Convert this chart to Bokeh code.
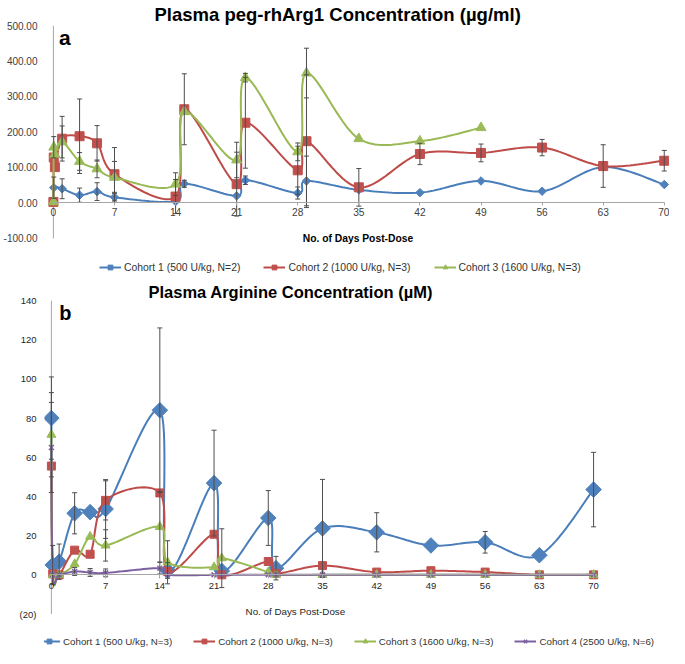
import numpy as np
from bokeh.plotting import figure
from bokeh.layouts import column
from bokeh.models import (Range1d, FixedTicker, NumeralTickFormatter, Legend, LegendItem,
                          Whisker, TeeHead, ColumnDataSource, Label)
from bokeh.embed import file_html
from bokeh.resources import INLINE

# ---------------- Panel a: Plasma peg-rhArg1 concentration (ug/ml) ----------------
a_days_c1 = [0, 0.04, 1, 3, 5, 7, 14, 15, 21, 22, 28, 29, 35, 42, 49, 56, 63, 70]
a_vals_c1 = [0, 43, 40, 22, 32, 16, 4, 54, 20, 64, 28, 62, 37, 29, 62, 33, 101, 52]
a_err_c1 = [0, 30, 28, 20, 25, 14, 0, 10, 0, 12, 17, 70, 0, 0, 0, 0, 0, 0]

a_days_c2 = [0, 0.04, 0.17, 1, 3, 5, 7, 14, 15, 21, 22, 28, 29, 35, 42, 49, 56, 63, 70]
a_vals_c2 = [3, 128, 101, 181, 188, 168, 81, 18, 264, 53, 226, 92, 174, 44, 138, 141, 156, 104, 119]
a_err_c2 = [0, 0, 0, 63, 105, 50, 75, 48, 100, 90, 128, 68, 187, 53, 30, 25, 23, 60, 29]

a_days_c3 = [0, 0.04, 0.17, 1, 3, 5, 7, 14, 15, 21, 22, 28, 29, 35, 42, 49]
a_vals_c3 = [3, 157, 137, 172, 117, 96, 72, 53, 257, 121, 353, 144, 366, 181, 174, 212]
a_err_c3 = [0, 30, 0, 45, 25, 25, 45, 32, 0, 50, 12, 25, 70, 0, 0, 0]

a_labels = ["Cohort 1 (500 U/kg, N=2)", "Cohort 2 (1000 U/kg, N=3)", "Cohort 3 (1600 U/kg, N=3)"]
a_yticks = [-100, 0, 100, 200, 300, 400, 500]
x_ticks = [0, 7, 14, 21, 28, 35, 42, 49, 56, 63, 70]

# ---------------- Panel b: Plasma arginine concentration (uM) ----------------
b_days = [0, 0.17, 1, 3, 5, 7, 14, 15, 21, 22, 28, 29, 35, 42, 49, 56, 63, 70]
b_vals_c1 = [80, 5, 6.7, 31.4, 32, 33.6, 84, 2.2, 46.8, 2, 29, 3.4, 23.7, 21.7, 15, 16.6, 10, 43.5]
b_err_c1 = [21, 10, 9, 10.5, 0, 15, 42, 4, 27, 0, 14, 6, 25, 10, 0, 5.5, 0, 19]
b_vals_c2 = [55.5, 0.5, 0, 12.6, 10.5, 38, 41.8, 1.7, 20.7, 0, 6.8, 0.8, 4.7, 1.4, 2.1, 1.4, 0, 0]
b_err_c2 = [0, 0, 0, 0, 0, 10, 0, 0, 0, 0, 0, 0, 0, 0, 0, 0, 0, 0]
b_vals_c3 = [71.5, 0, 0, 5.5, 19.5, 15, 24.5, 6.4, 3.9, 8.5, 1.4, 0, 0, 0, 0, 0, 0, 0]
b_err_c3 = [21.5, 0, 0, 0, 0, 8, 18, 11, 0, 15, 0, 0, 0, 0, 0, 0, 0, 0]
b_vals_c4 = [65, 0, 0, 1.7, 1.2, 1, 3.4, 0, 0, 0, 0, 0, 0, 0, 0, 0, 0, 0]
b_err_c4 = [23, 0, 0, 2, 2, 2, 3, 0, 0, 0, 0, 0, 0, 0, 0, 0, 0, 0]
b_labels = ["Cohort 1 (500 U/kg, N=3)", "Cohort 2 (1000 U/kg, N=3)",
            "Cohort 3 (1600 U/kg, N=3)", "Cohort 4 (2500 U/kg, N=6)"]
b_yticks = [-20, 0, 20, 40, 60, 80, 100, 120, 140]

LINE = {"blue": "#4A7EBB", "red": "#BE4B48", "green": "#98B954", "purple": "#7D60A0"}
FILL = {"blue": "#4F81BD", "red": "#C0504D", "green": "#9BBB59", "purple": "#8064A2"}
ERR = "#4d4d4d"
AXIS = "#a6a6a6"
FONT = "Liberation Sans"
BL, BR = 36, 0  # shared left / right borders of the stacked plots

# marker specs: (marker, size, angle)
A_MK = {"blue": ("square", 6, np.pi / 4), "red": ("square", 9, 0), "green": ("triangle", 10, 0)}
B_MK = {"blue": ("square", 11, np.pi / 4), "red": ("square", 8, 0), "green": ("triangle", 9, 0),
        "purple": ("x", 7, 0)}


def smooth(xs, ys, n=18):
    """Excel-style smoothed path (Catmull-Rom Bezier) through the data points."""
    P = np.column_stack([xs, ys]).astype(float)
    ext = np.vstack([P[0], P, P[-1]])
    out = []
    t = np.linspace(0, 1, n, endpoint=False)[:, None]
    for i in range(1, len(ext) - 2):
        p0, p1, p2, p3 = ext[i - 1], ext[i], ext[i + 1], ext[i + 2]
        c1 = p1 + (p2 - p0) / 6.0
        c2 = p2 - (p3 - p1) / 6.0
        seg = (1 - t) ** 3 * p1 + 3 * (1 - t) ** 2 * t * c1 + 3 * (1 - t) * t ** 2 * c2 + t ** 3 * p2
        out.append(seg)
    out.append(P[-1:])
    S = np.vstack(out)
    return S[:, 0], S[:, 1]


def add_series(p, xs, ys, errs, color, mk):
    sx, sy = smooth(xs, ys)
    lr = p.line(sx, sy, line_color=LINE[color], line_width=2)
    keep = [i for i, e in enumerate(errs) if e > 0]
    src = ColumnDataSource(dict(x=[xs[i] for i in keep],
                                upper=[ys[i] + errs[i] for i in keep],
                                lower=[ys[i] - errs[i] for i in keep]))
    p.add_layout(Whisker(source=src, base="x", upper="upper", lower="lower", line_color=ERR, line_width=1,
                         upper_head=TeeHead(size=5, line_color=ERR, line_width=1),
                         lower_head=TeeHead(size=5, line_color=ERR, line_width=1), level="glyph"))
    m, s, a = mk
    sr = p.scatter(xs, ys, marker=m, size=s, angle=a, fill_color=FILL[color], line_color=FILL[color],
                   line_width=1.5 if m == "x" else 1)
    return [lr, sr]


def style(p):
    p.xgrid.visible = False
    p.ygrid.visible = False
    p.outline_line_color = None
    p.background_fill_color = "white"
    p.border_fill_color = "white"


def add_legend(p, labels, rends, loc, spacing, fsize):
    leg = Legend(items=[LegendItem(label=l, renderers=r) for l, r in zip(labels, rends)],
                 orientation="horizontal", location=loc, spacing=spacing, padding=0, margin=0,
                 glyph_width=22, glyph_height=12, label_height=12, label_standoff=3,
                 label_text_font=FONT, label_text_font_size=fsize, label_text_color="#333333",
                 border_line_color=None, background_fill_alpha=0)
    p.add_layout(leg, "center")


# ======================= Figure a =======================
p1 = figure(width=669, height=280, x_range=Range1d(-1.02, 70.6), y_range=Range1d(-218.5, 500),
            output_backend="svg", toolbar_location=None,
            min_border_left=BL, min_border_right=BR, min_border_top=20, min_border_bottom=0)
style(p1)
p1.title.text = "Plasma peg-rhArg1 Concentration (\u00b5g/ml)"
p1.title.text_font = FONT
p1.title.text_font_size = "18.5px"
p1.title.text_font_style = "bold"
p1.title.text_color = "#000000"
p1.title.align = "left"
p1.title.offset = 110
p1.title.standoff = 2

p1.yaxis.ticker = FixedTicker(ticks=a_yticks)
p1.yaxis.formatter = NumeralTickFormatter(format="0.00")
p1.yaxis.axis_line_color = None
p1.yaxis.major_tick_line_color = None
p1.yaxis.major_label_standoff = 1
p1.xaxis.fixed_location = 0
p1.xaxis.ticker = FixedTicker(ticks=x_ticks)
p1.xaxis.bounds = (x_ticks[0], x_ticks[-1])
p1.xaxis.axis_line_color = AXIS
p1.xaxis.major_tick_line_color = AXIS
p1.xaxis.major_tick_in = 0
p1.xaxis.major_tick_out = 3
p1.xaxis.major_label_standoff = 2
for ax in (p1.xaxis, p1.yaxis):
    ax.minor_tick_line_color = None
    ax.major_label_text_font = FONT
    ax.major_label_text_color = "#404040"
p1.yaxis.major_label_text_font_size = "10px"
p1.xaxis.major_label_text_font_size = "10.2px"
p1.segment(x0=[0], y0=[a_yticks[0]], x1=[0], y1=[a_yticks[-1]], line_color=AXIS, line_width=1)

r1 = add_series(p1, a_days_c1, a_vals_c1, a_err_c1, "blue", A_MK["blue"])
r2 = add_series(p1, a_days_c2, a_vals_c2, a_err_c2, "red", A_MK["red"])
r3 = add_series(p1, a_days_c3, a_vals_c3, a_err_c3, "green", A_MK["green"])

p1.add_layout(Label(x=34.9, y=-99, text="No. of Days Post-Dose", text_font=FONT, text_font_size="10.3px",
                    text_font_style="bold", text_align="center", text_baseline="middle", text_color="#000000"))
p1.add_layout(Label(x=1.3, y=465, text="a", text_font=FONT, text_font_size="21px",
                    text_font_style="bold", text_align="center", text_baseline="middle", text_color="#000000"))
add_legend(p1, a_labels, [r1, r2, r3], (55, 7), 23, "10.4px")

# ======================= Figure b =======================
p2 = figure(width=669, height=368, x_range=Range1d(-0.89, 79.8), y_range=Range1d(-37.6, 140),
            output_backend="svg", toolbar_location=None,
            min_border_left=BL, min_border_right=BR, min_border_top=15, min_border_bottom=0)
style(p2)
p2.title.text = "Plasma Arginine Concentration (\u00b5M)"
p2.title.text_font = FONT
p2.title.text_font_size = "16.5px"
p2.title.text_font_style = "bold"
p2.title.text_color = "#000000"
p2.title.align = "left"
p2.title.offset = 104
p2.title.standoff = 0

p2.yaxis.ticker = FixedTicker(ticks=b_yticks)
p2.yaxis.major_label_overrides = {-20: "(20)"}
p2.yaxis.axis_line_color = None
p2.yaxis.major_tick_line_color = None
p2.yaxis.major_label_standoff = 2
p2.xaxis.fixed_location = 0
p2.xaxis.ticker = FixedTicker(ticks=x_ticks)
p2.xaxis.bounds = (x_ticks[0], x_ticks[-1])
p2.xaxis.axis_line_color = AXIS
p2.xaxis.major_tick_line_color = AXIS
p2.xaxis.major_tick_in = 0
p2.xaxis.major_tick_out = 4
p2.xaxis.major_label_standoff = 4
for ax in (p2.xaxis, p2.yaxis):
    ax.minor_tick_line_color = None
    ax.major_label_text_font = FONT
    ax.major_label_text_font_size = "9.5px"
    ax.major_label_text_color = "#262626"
p2.segment(x0=[0], y0=[b_yticks[0]], x1=[0], y1=[b_yticks[-1]], line_color=AXIS, line_width=1)

s1 = add_series(p2, b_days, b_vals_c1, b_err_c1, "blue", B_MK["blue"])
s2 = add_series(p2, b_days, b_vals_c2, b_err_c2, "red", B_MK["red"])
s3 = add_series(p2, b_days, b_vals_c3, b_err_c3, "green", B_MK["green"])
s4 = add_series(p2, b_days, b_vals_c4, b_err_c4, "purple", B_MK["purple"])

p2.add_layout(Label(x=31.5, y=-18.6, text="No. of Days Post-Dose", text_font=FONT, text_font_size="9.8px",
                    text_align="center", text_baseline="middle", text_color="#262626"))
p2.add_layout(Label(x=1.8, y=133.5, text="b", text_font=FONT, text_font_size="20px",
                    text_font_style="bold", text_align="center", text_baseline="middle", text_color="#000000"))
add_legend(p2, b_labels, [s1, s2, s3, s4], (-6, 1), 21, "9.75px")

layout = column(p1, p2, spacing=0)
open("out.html", "w").write(file_html(layout, INLINE))
